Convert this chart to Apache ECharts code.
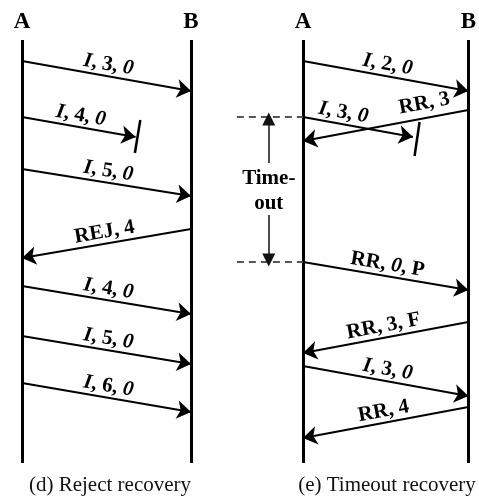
<!DOCTYPE html>
<html><head><meta charset="utf-8">
<script src="https://cdn.jsdelivr.net/npm/echarts@6/dist/echarts.min.js"></script>
<style>html,body{margin:0;padding:0;background:#fff}#c{width:479px;height:497px}</style>
</head><body><div id="c"></div>
<script>
// ---- data ----
const lanes = ['A', 'B'];                 // lifeline names (x = 0 and x = 1)
const captions = ['(d) Reject recovery', '(e) Timeout recovery'];

// Panel (d) Reject recovery  (time runs downward)
const dLabels = ['I, 3, 0', 'I, 4, 0', 'I, 5, 0', 'REJ, 4', 'I, 4, 0', 'I, 5, 0', 'I, 6, 0'];
const dFrom   = [0, 0, 0, 1, 0, 0, 0];          // sender lane
const dTo     = [1, 0.672, 1, 0, 1, 1, 1];      // where the frame ends (lost frame stops short)
const dSend   = [21, 77, 129, 189, 246, 296, 343];
const dRecv   = [51, 97, 156, 218, 274, 324, 372];
const dLossX  = [0.70, 0.668];                  // loss mark ends
const dLossT  = [80, 113];

// Panel (e) Timeout recovery
const eLabels = ['I, 2, 0', 'I, 3, 0', 'RR, 3', 'RR, 0, P', 'RR, 3, F', 'I, 3, 0', 'RR, 4'];
const eFrom   = [0, 0, 1, 0, 1, 0, 1];
const eTo     = [1, 0.665, 0, 1, 0, 1, 0];
const eSend   = [21, 77, 70, 222, 282, 326, 367];
const eRecv   = [51, 97, 101, 250, 313, 356, 398];
const eLossX  = [0.705, 0.675];
const eLossT  = [82, 116];
const eTimeout = [77, 222];                     // timer start / expiry
const eTimeoutX = -0.207;
const eTimeoutLabel = 'Time-\nout';
const timeMax = 423;

// ---- chart ----
const chart = echarts.init(document.getElementById('c'));
const serif = 'Liberation Serif';
function rich(s) { return s.replace(/\b(I|0)\b/g, '{it|$1}'); }

function msgs(from, to, send, recv, labels, tweak) {
  return labels.map((l, i) => {
    const item = { name: l, coords: [[from[i], send[i]], [to[i], recv[i]]] };
    if (tweak && tweak[i]) item.label = tweak[i];
    return item;
  });
}
const labelStyle = {
  show: true, position: 'middle', distance: 1,
  formatter: p => rich(p.name),
  color: '#000', fontFamily: serif, fontWeight: 'bold', fontSize: 21,
  rich: { it: { fontStyle: 'italic', fontWeight: 'bold', fontFamily: serif, fontSize: 21, color: '#000' } }
};
function msgSeries(idx, data) {
  return {
    type: 'lines', coordinateSystem: 'cartesian2d', xAxisIndex: idx, yAxisIndex: idx,
    data, symbol: ['none', 'arrow'], symbolSize: [11, 14], clip: false,
    lineStyle: { color: '#000', width: 2, opacity: 1 }, label: labelStyle, silent: true, z: 3
  };
}
function lossSeries(idx, xs, ts) {
  return {
    type: 'lines', coordinateSystem: 'cartesian2d', xAxisIndex: idx, yAxisIndex: idx,
    data: [{ coords: [[xs[0], ts[0]], [xs[1], ts[1]]] }], symbol: 'none', clip: false,
    lineStyle: { color: '#000', width: 2.5, opacity: 1 }, silent: true
  };
}

const xAxisBase = idx => ({
  gridIndex: idx, type: 'value', min: 0, max: 1, interval: 1, position: 'top',
  axisLine: { show: false }, axisTick: { show: false },
  splitLine: { show: true, lineStyle: { color: '#000', width: 3 } },
  axisLabel: { margin: 6, formatter: v => lanes[v], color: '#000', fontFamily: serif, fontWeight: 'bold', fontSize: 23 }
});
const yAxisBase = idx => ({ gridIndex: idx, type: 'value', inverse: true, min: 0, max: timeMax, show: false });

const option = {
  animation: false,
  backgroundColor: '#fff',
  title: [
    { text: captions[0], left: 105, top: 470, textAlign: 'center', textStyle: { fontFamily: serif, fontWeight: 'normal', fontSize: 21, color: '#111' } },
    { text: captions[1], left: 382, top: 470, textAlign: 'center', textStyle: { fontFamily: serif, fontWeight: 'normal', fontSize: 21, color: '#111' } }
  ],
  grid: [
    { left: 22, width: 169, top: 40, height: 423 },
    { left: 303, width: 169, top: 40, height: 423 }
  ],
  xAxis: [xAxisBase(0), xAxisBase(1)],
  yAxis: [yAxisBase(0), yAxisBase(1)],
  series: [
    msgSeries(0, msgs(dFrom, dTo, dSend, dRecv, dLabels)),
    lossSeries(0, dLossX, dLossT),
    msgSeries(1, msgs(eFrom, eTo, eSend, eRecv, eLabels, {
      1: { padding: [0, 34, 0, 0] },
      2: { padding: [0, 0, 0, 84], distance: 4 }
    })),
    lossSeries(1, eLossX, eLossT),
    { // timer start / expiry dashed marks
      type: 'lines', coordinateSystem: 'cartesian2d', xAxisIndex: 1, yAxisIndex: 1, clip: false, symbol: 'none',
      data: eTimeout.map(t => ({ coords: [[-0.40, t], [0, t]] })),
      lineStyle: { color: '#555', width: 2, type: [7, 5], opacity: 1 }, silent: true
    },
    { // timeout span arrows
      type: 'lines', coordinateSystem: 'cartesian2d', xAxisIndex: 1, yAxisIndex: 1, clip: false,
      symbol: ['none', 'triangle'], symbolSize: [13, 13],
      data: [
        { coords: [[eTimeoutX, 123], [eTimeoutX, eTimeout[0] + 2]] },
        { coords: [[eTimeoutX, 175], [eTimeoutX, eTimeout[1] - 2]] }
      ],
      lineStyle: { color: '#111', width: 1.5, opacity: 1 }, silent: true
    },
    {
      type: 'scatter', xAxisIndex: 1, yAxisIndex: 1, clip: false, symbolSize: 0, silent: true,
      itemStyle: { opacity: 1 },
      data: [[eTimeoutX, (eTimeout[0] + eTimeout[1]) / 2 + 2]],
      label: { show: true, position: 'inside', formatter: eTimeoutLabel, color: '#000', opacity: 1, fontFamily: serif, fontWeight: 'bold', fontSize: 21, lineHeight: 25 }
    }
  ]
};
chart.setOption(option);
</script>
</body></html>
